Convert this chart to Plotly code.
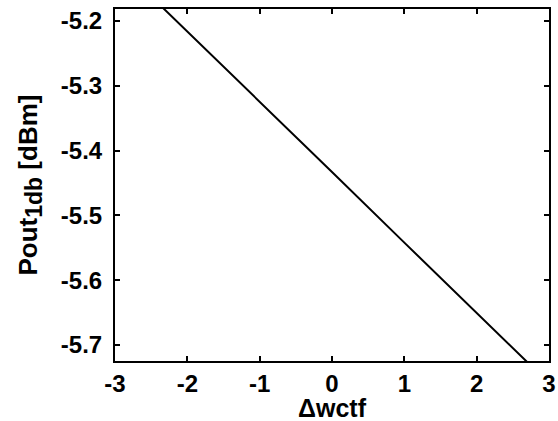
import plotly.graph_objects as go

# Output 1-dB compression point versus wctf offset
dwctf = [-3, -2, -1, 0, 1, 2, 3]
pout_1db = [-5.108, -5.216, -5.325, -5.433, -5.542, -5.650, -5.759]

x_ticks = [-3, -2, -1, 0, 1, 2, 3]
y_ticks = [-5.7, -5.6, -5.5, -5.4, -5.3, -5.2]

family = "Liberation Sans, Arial, sans-serif"
tick_font = dict(family=family, size=24, color="black", weight="bold")
title_font = dict(family=family, size=26, color="black")

fig = go.Figure(
    go.Scatter(x=dwctf, y=pout_1db, mode="lines",
               line=dict(color="black", width=2), showlegend=False)
)

axis_common = dict(
    showline=True, linecolor="black", linewidth=2, mirror="ticks",
    ticks="inside", ticklen=5, tickwidth=1.5, tickcolor="black",
    showgrid=False, zeroline=False, tickfont=tick_font, automargin=False,
)

fig.update_xaxes(range=[-3, 3], tickvals=x_ticks,
                 ticktext=[str(v) for v in x_ticks],
                 ticklabelstandoff=0,
                 **axis_common)
fig.update_yaxes(range=[-5.7247, -5.1815], tickvals=y_ticks,
                 ticktext=[f"{v:.1f}" for v in y_ticks],
                 ticklabelstandoff=6,
                 title=dict(
                     text="<b>Pout<sub><span style='font-size:23px'>1db</span></sub> [dBm]</b>",
                     font=title_font, standoff=16),
                 **axis_common)

# x-axis title placed just below the tick labels
fig.add_annotation(
    text="<b>Δwctf</b>", xref="paper", yref="paper", x=0.5, y=-0.088,
    xanchor="center", yanchor="top", showarrow=False,
    font=dict(family=family, size=25, color="black"),
)

fig.update_layout(
    width=558, height=421,
    margin=dict(l=115, r=9, t=9, b=60),
    paper_bgcolor="white", plot_bgcolor="white",
    font=dict(family=family, size=24, color="black"),
)

fig.write_html("out.html")
